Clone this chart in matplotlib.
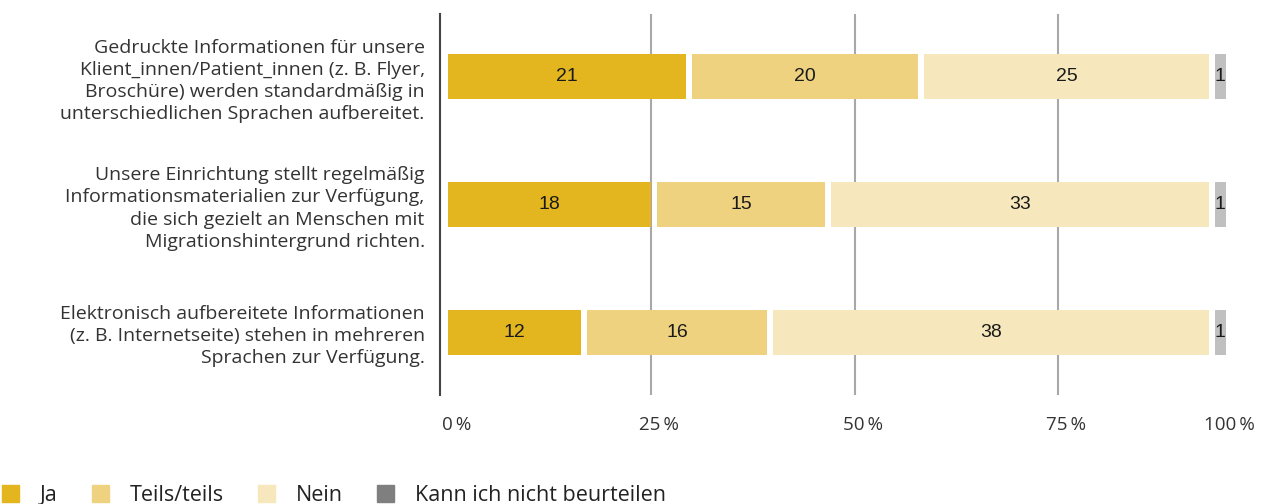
import matplotlib.pyplot as plt
from matplotlib.patches import Patch
import matplotlib.transforms as mtransforms

# Daten (Anzahl Einrichtungen, Basis n = 70)
fragen = [
    "Gedruckte Informationen für unsere\nKlient_innen/Patient_innen (z. B. Flyer,\nBroschüre) werden standardmäßig in\nunterschiedlichen Sprachen aufbereitet.",
    "Unsere Einrichtung stellt regelmäßig\nInformationsmaterialien zur Verfügung,\ndie sich gezielt an Menschen mit\nMigrationshintergrund richten.",
    "Elektronisch aufbereitete Informationen\n(z. B. Internetseite) stehen in mehreren\nSprachen zur Verfügung.",
]
ja = [21, 18, 12]
teils = [20, 15, 16]
nein = [25, 33, 38]
weiss_nicht = [1, 1, 1]
n_gesamt = 70

kategorien = ["Ja", "Teils/teils", "Nein", "Kann ich nicht beurteilen"]
farben = ["#E3B620", "#EFD27F", "#F6E8BC", "#C0C0C0"]
legend_farben = ["#E3B620", "#EFD27F", "#F6E8BC", "#7F7F7F"]
ticks = [0, 25, 50, 75, 100]

plt.rcParams['font.family'] = ['Open Sans', 'DejaVu Sans']

fig = plt.figure(figsize=(12.61, 5.04), dpi=100)
ax = fig.add_axes([440 / 1261, 109 / 504, 821 / 1261, 381 / 504])

serien = [ja, teils, nein, weiss_nicht]
gap = 0.74  # weisser Spalt zwischen Segmenten (in %-Punkten)
for i in range(len(fragen)):
    links = 0
    for k, serie in enumerate(serien):
        breite = serie[i] / n_gesamt * 100
        letzte = k == len(serien) - 1
        w = breite if letzte else breite - gap
        ax.barh(i, w, left=links, height=0.353, color=farben[k], zorder=3)
        ax.text(links + w / 2, i, str(serie[i]), ha='center', va='center',
                fontsize=14, family='Liberation Sans', color='#1a1a1a', zorder=4)
        links += breite

ax.set_xlim(-1, 99.0)
ax.set_ylim(2.494, -0.494)
ax.set_yticks(range(len(fragen)))
ax.set_yticklabels(fragen, fontsize=14, color='#333333', linespacing=1.3)
ax.tick_params(axis='y', length=0, pad=11)

ax.set_xticks(ticks)
ax.set_xticklabels([f"{t}\u2009%" for t in ticks], fontsize=13.5, color='#333333')
ax.tick_params(axis='x', length=0, pad=15)
offset = mtransforms.ScaledTranslation(8 / 100, 0, fig.dpi_scale_trans)
for lab in ax.get_xticklabels():
    lab.set_transform(lab.get_transform() + offset)
last = ax.get_xticklabels()[-1]
last.set_horizontalalignment('right')
last.set_transform(last.get_transform() + mtransforms.ScaledTranslation(-0.14, 0, fig.dpi_scale_trans))

for t in ticks[1:-1]:
    ax.axvline(t, color='#A8A8A8', lw=1.5, zorder=1)

for s in ['top', 'right', 'bottom']:
    ax.spines[s].set_visible(False)
ax.spines['left'].set_color('#444444')
ax.spines['left'].set_linewidth(1.5)

handles = [Patch(color=c, label=l) for c, l in zip(legend_farben, kategorien)]
fig.legend(handles=handles, loc='lower left', bbox_to_anchor=(-0.014, -0.042), ncol=4,
           frameon=False, fontsize=15.5, handlelength=0.8, handleheight=0.8,
           handletextpad=0.95, columnspacing=1.6, labelcolor='#222222')

fig.savefig('out.png', dpi=100)
